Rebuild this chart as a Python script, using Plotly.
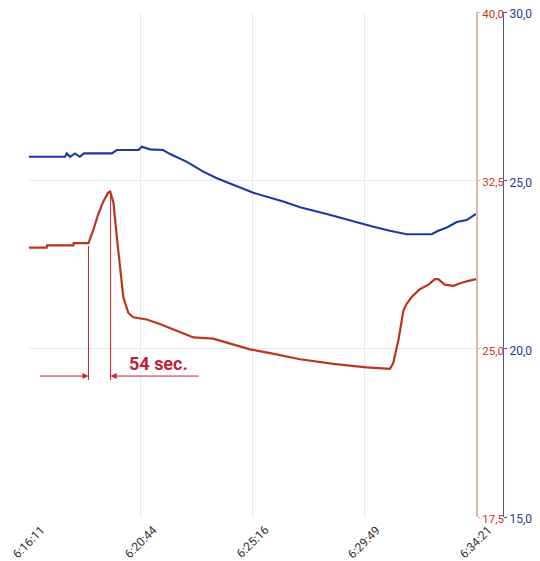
import pandas as pd
import plotly.graph_objects as go

BASE_DAY = "2021-01-01 "
TICK_LABELS = ["6:16:11", "6:20:44", "6:25:16", "6:29:49", "6:34:21"]

# seconds after 6:16:11 and values (red series: right red axis 17.5-40)
RED_T = [0, 43, 44, 108, 109, 145, 157, 169, 181, 193, 198, 206, 214, 222, 230, 242, 254,
         287, 319, 360, 401, 449, 482, 539, 588, 661, 742, 823, 880, 888, 901, 913, 921,
         933, 953, 974, 990, 998, 1014, 1035, 1047, 1067, 1090]
RED_V = [29.5, 29.5, 29.6, 29.6, 29.7, 29.7, 30.3, 31.0, 31.55, 31.95, 32.0, 31.5, 30.0,
         28.5, 27.3, 26.6, 26.4, 26.3, 26.1, 25.8, 25.5, 25.45, 25.27, 24.97, 24.8, 24.53,
         24.32, 24.17, 24.1, 24.35, 25.4, 26.7, 27.0, 27.3, 27.65, 27.85, 28.1, 28.1, 27.85,
         27.8, 27.88, 28.0, 28.1]

# blue series: outer blue axis 15-30
BLUE_T = [0, 88, 92, 100, 112, 124, 134, 202, 214, 267, 275, 283, 295, 327, 344, 385,
          425, 458, 498, 547, 620, 661, 726, 783, 840, 880, 921, 982, 998, 1019, 1043,
          1067, 1090]
BLUE_V = [25.7, 25.7, 25.8, 25.7, 25.8, 25.7, 25.8, 25.8, 25.9, 25.9, 26.0, 25.97, 25.92,
          25.9, 25.78, 25.55, 25.26, 25.06, 24.86, 24.63, 24.37, 24.2, 24.0, 23.8, 23.62,
          23.5, 23.4, 23.4, 23.5, 23.6, 23.76, 23.82, 24.0]

# annotation: rise start, peak, arrow level / extents (seconds, red-axis value)
RISE_START_T = 145
PEAK_T = 199
ARROW_LEVEL = 23.78
LINE_BOTTOM = 23.6
LEFT_TAIL_T = 23
RIGHT_TAIL_T = 417
TEXT_T = 240
TEXT_LEVEL = 24.36
ANNOT_TEXT = "54 sec."

base = pd.to_datetime(BASE_DAY + TICK_LABELS[0])
def ts(sec):
    return base + pd.to_timedelta(sec, unit="s")

red_x = [ts(s) for s in RED_T]
blue_x = [ts(s) for s in BLUE_T]
tickvals = [pd.to_datetime(BASE_DAY + t) for t in TICK_LABELS]

RED = "#b9361b"
BLUE = "#1a38a8"
ANN = "#c8202c"
GRID = "#e9e9e9"

fig = go.Figure()
fig.add_trace(go.Scatter(x=red_x, y=RED_V, mode="lines", yaxis="y",
                         line=dict(color=RED, width=2.2)))
fig.add_trace(go.Scatter(x=blue_x, y=BLUE_V, mode="lines", yaxis="y2",
                         line=dict(color=BLUE, width=2.1)))

def red_at(t):
    for i in range(len(RED_T) - 1):
        if RED_T[i] <= t <= RED_T[i + 1]:
            f = (t - RED_T[i]) / max(RED_T[i + 1] - RED_T[i], 1)
            return RED_V[i] + f * (RED_V[i + 1] - RED_V[i])
    return RED_V[-1]

for t in (RISE_START_T, PEAK_T):
    fig.add_shape(type="line", xref="x", yref="y", x0=ts(t), x1=ts(t),
                  y0=red_at(t) - 0.12, y1=LINE_BOTTOM, line=dict(color=ANN, width=1))

fig.add_annotation(x=ts(RISE_START_T), y=ARROW_LEVEL, ax=ts(LEFT_TAIL_T), ay=ARROW_LEVEL,
                   xref="x", yref="y", axref="x", ayref="y", text="", showarrow=True,
                   arrowhead=2, arrowsize=1.2, arrowwidth=1, arrowcolor=ANN, standoff=0)
fig.add_annotation(x=ts(PEAK_T), y=ARROW_LEVEL, ax=ts(RIGHT_TAIL_T), ay=ARROW_LEVEL,
                   xref="x", yref="y", axref="x", ayref="y", text="", showarrow=True,
                   arrowhead=2, arrowsize=1.2, arrowwidth=1, arrowcolor=ANN, standoff=0)
fig.add_annotation(x=ts(TEXT_T), y=TEXT_LEVEL, xref="x", yref="y",
                   text="<b>" + ANNOT_TEXT + "</b>", showarrow=False,
                   xanchor="left", yanchor="middle",
                   font=dict(family="Roboto", size=18, color="#c0233a"))

# rotated x tick labels, centred under their ticks
for tv, lab in zip(tickvals, TICK_LABELS):
    fig.add_annotation(x=tv, y=0, xref="x", yref="paper", text=lab, showarrow=False,
                       textangle=-45, xanchor="center", yanchor="middle", yshift=-25,
                       font=dict(family="Roboto", size=12, color="#333333"))

# page has an 8px body margin; the figure is sized/margined to compensate
dom_end = 447 / 501
fig.update_layout(
    width=532, height=553,
    margin=dict(l=21, r=10, t=4, b=44, autoexpand=False),
    paper_bgcolor="white", plot_bgcolor="white",
    showlegend=False,
    separators=",.",
    font=dict(family="Roboto", size=12, color="#333333"),
    xaxis=dict(domain=[0, dom_end], type="date", automargin=False,
               range=[ts(-0.01), ts(RED_T[-1] + 0.01)],
               tickvals=tickvals, showticklabels=False,
               showgrid=True, gridcolor=GRID, gridwidth=1,
               showline=False, zeroline=False, ticks=""),
    yaxis=dict(side="right", anchor="x", range=[17.5, 40], tick0=17.5, dtick=7.5,
               automargin=False, ticklabeloverflow="allow", ticklabelshift=2,
               tickformat=".1f", showgrid=True, gridcolor=GRID, zeroline=False,
               showline=True, linecolor="#e3b7a4", linewidth=2,
               ticks="outside", ticklen=2, tickcolor="#d9a890",
               tickfont=dict(size=11.5, color="#c0391b")),
    yaxis2=dict(overlaying="y", side="right", anchor="free", position=(503 - 29) / 501,
                automargin=False, ticklabeloverflow="allow", ticklabelshift=2,
                range=[15, 30], tick0=15, dtick=5, tickformat=".1f",
                showgrid=False, zeroline=False,
                showline=True, linecolor="#3d55a2", linewidth=1,
                ticks="outside", ticklen=3, tickcolor="#3d55a2",
                tickfont=dict(size=12, color="#1f3a96")),
)

fig.write_html("out.html")
